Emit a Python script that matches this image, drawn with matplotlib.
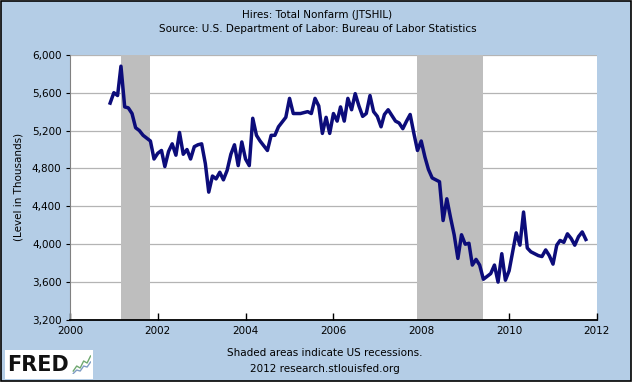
import matplotlib
matplotlib.use("Agg")
import matplotlib.pyplot as plt
import matplotlib.dates as mdates
from matplotlib.patches import Rectangle
import pandas as pd

# JTSHIL monthly hires, thousands (Dec 2000 - Oct 2011)
hires = [
    5490, 5600, 5570, 5880, 5450, 5440, 5380, 5230, 5200, 5150, 5120, 5090,
    4900, 4960, 4990, 4820, 4980, 5060, 4940, 5180, 4950, 5000, 4900, 5030,
    5050, 5060, 4850, 4550, 4720, 4690, 4760, 4680, 4780, 4950, 5050, 4830,
    5080, 4900, 4830, 5330, 5150, 5090, 5040, 4990, 5150, 5150, 5240, 5290,
    5340, 5540, 5380, 5380, 5380, 5390, 5400, 5380, 5540, 5460, 5170, 5340,
    5170, 5380, 5300, 5450, 5300, 5540, 5420, 5590, 5460, 5350, 5380, 5570,
    5400, 5350, 5240, 5370, 5420, 5360, 5300, 5280, 5220, 5300, 5370, 5170,
    4990, 5090, 4920, 4790, 4700, 4680, 4660, 4250, 4480, 4280, 4100, 3850,
    4100, 4000, 4010, 3780, 3840, 3780, 3630, 3660, 3690, 3780, 3600, 3900,
    3620, 3720, 3930, 4120, 3990, 4340, 3960, 3920, 3900, 3880, 3870, 3940,
    3880, 3790, 3990, 4040, 4020, 4110, 4060, 3990, 4080, 4130, 4050,
]
start_month = "2000-12-01"
recessions = [("2001-03-01", "2001-11-01"), ("2007-12-01", "2009-06-01")]
yticks = [3200, 3600, 4000, 4400, 4800, 5200, 5600, 6000]
xyears = [2000, 2002, 2004, 2006, 2008, 2010, 2012]

title1 = "Hires: Total Nonfarm (JTSHIL)"
title2 = "Source: U.S. Department of Labor: Bureau of Labor Statistics"
ylabel = "(Level in Thousands)"
note1 = "Shaded areas indicate US recessions."
note2 = "2012 research.stlouisfed.org"

# little FRED logo sparkline
logo_a = [1, 2, 1.6, 3, 2.6, 4]
logo_b = [0.5, 1.2, 1.0, 2.0, 1.8, 2.8]

bg = "#B4CDE6"
navy = "#0C0C7A"

dates = pd.date_range(start_month, periods=len(hires), freq="MS")

fig = plt.figure(figsize=(6.35, 3.86), dpi=100)
fig.patch.set_facecolor("white")
# blue panel with black frame
fig.patches.append(Rectangle((0.002, 0.012), 0.992, 0.985, transform=fig.transFigure,
                             facecolor=bg, edgecolor="black", linewidth=1.2, zorder=-1))

ax = fig.add_axes([0.110, 0.171, 0.830, 0.687])
ax.set_facecolor("white")

for s, e in recessions:
    ax.axvspan(pd.Timestamp(s), pd.Timestamp(e), color="#BEBEBE", lw=0, zorder=1)

ax.plot(dates, hires, color=navy, lw=2.5, zorder=3, solid_joinstyle="round")

ax.set_ylim(3200, 6000)
ax.set_yticks(yticks)
ax.set_yticklabels([f"{v:,}" for v in yticks])
ax.yaxis.grid(True, color="#B4B4B4", lw=0.9, zorder=0)
ax.set_axisbelow(True)

ax.set_xlim(pd.Timestamp("2000-01-01"), pd.Timestamp("2012-01-01"))
ax.set_xticks([pd.Timestamp(f"{y}-01-01") for y in xyears])
ax.xaxis.set_major_formatter(mdates.DateFormatter("%Y"))

ax.tick_params(axis="x", direction="in", length=5, width=1, labelsize=7.5, pad=4)
ax.tick_params(axis="y", direction="out", length=3, width=0.8, labelsize=7.5, pad=3)
for side in ["top", "right"]:
    ax.spines[side].set_visible(False)
ax.spines["left"].set_color("#808080")
ax.spines["bottom"].set_color("black")
ax.spines["bottom"].set_linewidth(1.3)
ax.set_ylabel(ylabel, fontsize=7.5, labelpad=6)

fig.text(0.5, 0.962, title1, ha="center", va="center", fontsize=7.5)
fig.text(0.5, 0.924, title2, ha="center", va="center", fontsize=7.5)
fig.text(0.512, 0.085, note1, ha="center", va="center", fontsize=7.5)
fig.text(0.512, 0.045, note2, ha="center", va="center", fontsize=7.5)

# FRED logo
fig.patches.append(Rectangle((0.008, 0.018), 0.138, 0.075, transform=fig.transFigure,
                             facecolor="white", edgecolor="none", zorder=0))
fig.text(0.012, 0.055, "FRED", ha="left", va="center", fontsize=15,
         fontweight="bold", color="#111111")
lax = fig.add_axes([0.114, 0.03, 0.03, 0.05], zorder=5)
lax.patch.set_alpha(0)
lax.plot(logo_a, color="#6FA86F", lw=1.0)
lax.plot(logo_b, color="#7F9CC4", lw=1.0)
lax.axis("off")

fig.savefig("out.png", dpi=100, facecolor=fig.get_facecolor())
